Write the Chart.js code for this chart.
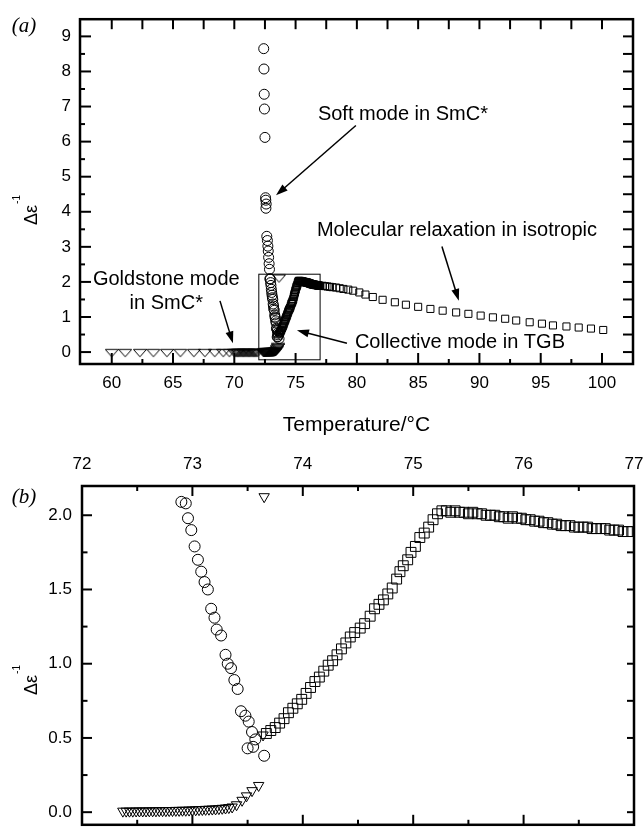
<!DOCTYPE html>
<html><head><meta charset="utf-8">
<script src="https://cdn.jsdelivr.net/npm/chart.js@4/dist/chart.umd.min.js"></script>
<style>
html,body{margin:0;padding:0;background:#fff;overflow:hidden;width:643px;height:831px;}
#a{position:absolute;left:0;top:0;}
#b{position:absolute;left:0;top:445px;}
</style></head><body>
<canvas id="a" width="643" height="445"></canvas>
<canvas id="b" width="643" height="400"></canvas>
<script>
// ---------- DATA ----------
// Goldstone mode in SmC* (down triangles)
const goldstoneTemp = [60.0,61.1,62.3,63.4,64.5,65.6,66.7,67.6,68.4,69.1,69.6,70.0,
  70.1,70.2,70.3,70.4,70.5,70.6,70.7,70.8,70.9,71.0,71.1,71.2,71.3,71.4,71.5,71.6,71.7,71.8,71.9,
  72.37,72.40,72.43,72.46,72.49,72.52,72.55,72.58,72.61,72.64,72.67,72.70,72.73,72.76,72.79,72.82,72.85,72.88,72.91,72.94,72.97,73.00,73.03,73.06,73.09,73.12,73.15,73.18,73.21,73.24,73.27,73.30,73.33,73.36,
  73.40,73.45,73.49,73.54,73.60,73.64,73.65];
const goldstoneInvEps = [0,0,0,0,0,0,0,0,0,0,0,0,
  0,0,0,0,0,0,0,0,0,0,0,0,0,0,0,0,0,0,0,
  0.007,0.007,0.007,0.007,0.008,0.008,0.008,0.008,0.009,0.009,0.009,0.010,0.010,0.010,0.011,0.011,0.012,0.012,0.013,0.013,0.014,0.015,0.016,0.017,0.018,0.019,0.020,0.021,0.022,0.024,0.026,0.028,0.031,0.035,
  0.05,0.08,0.11,0.145,0.18,0.52,2.125];
// Soft mode in SmC* (circles)
const softTemp = [72.40,72.42,72.44,72.46,72.50,72.55,72.57,72.60,72.58,72.65,72.70,72.74,72.77,72.80,72.84,72.87,
  72.90,72.94,72.96,72.99,73.02,73.05,73.08,73.11,73.14,73.17,73.20,73.22,73.26,73.30,73.32,73.35,73.38,73.41,73.44,73.48,73.51,73.54,73.57,73.50,73.55,73.65];
const softInvEps = [8.65,8.07,7.35,6.93,6.12,4.40,4.33,4.22,4.10,3.30,3.18,3.02,2.88,2.70,2.52,2.36,
  2.09,2.08,1.98,1.90,1.79,1.70,1.62,1.55,1.50,1.37,1.31,1.23,1.19,1.06,1.00,0.97,0.89,0.83,0.68,0.65,0.61,0.54,0.49,0.43,0.44,0.38];
// Collective mode in TGB + molecular relaxation in isotropic (squares)
const collectiveTemp = [73.67,73.71,73.75,73.79,73.83,73.87,73.91,73.95,73.99,74.03,74.07,74.11,74.15,74.19,74.23,74.27,74.31,74.35,74.39,74.43,74.47,74.52,74.56,74.61,74.65,74.69,74.73,74.77,74.81,74.85,74.88,74.91,74.95,74.98,75.02,75.06,75.10,75.14,75.18,75.22,75.26,
  75.30,75.34,75.38,75.42,75.46,75.50,75.54,75.58,75.62,75.66,75.70,75.74,75.78,75.82,75.86,75.90,75.94,75.98,76.02,76.06,76.10,76.14,76.18,76.22,76.26,76.30,76.34,76.38,76.42,76.46,76.50,76.54,76.58,76.62,76.66,76.70,76.74,76.78,76.82,76.86,76.90,76.94,76.98,
  77.2,77.4,77.6,77.8,78.0,78.3,78.6,78.9,79.3,79.7,80.2,80.7,81.3,82.1,83.1,84.0,85.0,86.0,87.0,88.1,89.1,90.1,91.1,92.1,93.0,94.1,95.1,96.0,97.1,98.1,99.1,100.1];
const collectiveInvEps = [0.53,0.55,0.57,0.60,0.63,0.67,0.70,0.73,0.76,0.80,0.84,0.88,0.91,0.95,0.99,1.02,1.06,1.10,1.14,1.18,1.21,1.24,1.27,1.32,1.37,1.40,1.43,1.47,1.51,1.57,1.62,1.66,1.70,1.75,1.79,1.85,1.88,1.92,1.97,2.01,2.03,
  2.03,2.02,2.03,2.02,2.02,2.01,2.02,2.01,2.01,2.00,2.00,2.00,1.99,1.99,1.98,1.99,1.98,1.98,1.97,1.97,1.96,1.96,1.95,1.95,1.94,1.94,1.93,1.93,1.93,1.92,1.92,1.92,1.92,1.91,1.91,1.91,1.91,1.90,1.90,1.90,1.89,1.89,1.89,
  1.89,1.88,1.87,1.86,1.85,1.84,1.82,1.80,1.78,1.75,1.70,1.64,1.57,1.49,1.42,1.35,1.29,1.23,1.18,1.13,1.09,1.04,0.99,0.95,0.90,0.85,0.81,0.76,0.73,0.70,0.67,0.63];
// Tick labels
const tempTicksA = [60,65,70,75,80,85,90,95,100];
const epsTicksA = [0,1,2,3,4,5,6,7,8,9];
const tempTicksB = [72,73,74,75,76,77];
const epsTicksB = [0.0,0.5,1.0,1.5,2.0];
// Zoomed window marked in panel (a)
const zoomWindowTemp = [72, 77];
const zoomWindowEps = [-0.22, 2.22];

// ---------- helpers ----------
const FONT = '"Liberation Sans", Arial, sans-serif';
const pts = (xs, ys) => xs.map((x, i) => ({x, y: ys[i]}));
const mids = arr => arr.slice(1).map((v, i) => (v + arr[i]) / 2);

function triImage(w, h, top, bottom) {
  const c = document.createElement('canvas'); c.width = w; c.height = h;
  const g = c.getContext('2d'); g.strokeStyle = '#000'; g.lineWidth = 1;
  g.beginPath(); g.moveTo(0.5, top); g.lineTo(w - 0.5, top); g.lineTo(w / 2, bottom); g.closePath(); g.stroke();
  return c;
}

function drawFrame(chart, spec) {
  const {ctx, chartArea: ca, scales: {x, y}} = chart;
  ctx.save();
  ctx.strokeStyle = '#000';
  ctx.lineWidth = 2;
  const seg = (x1, y1, x2, y2) => { ctx.beginPath(); ctx.moveTo(x1, y1); ctx.lineTo(x2, y2); ctx.stroke(); };
  spec.bottom.forEach(([v, l]) => { const p = x.getPixelForValue(v); seg(p, ca.bottom, p, ca.bottom - l); });
  spec.top.forEach(([v, l]) => { const p = x.getPixelForValue(v); seg(p, ca.top, p, ca.top + l); });
  spec.left.forEach(([v, l]) => { const p = y.getPixelForValue(v); seg(ca.left, p, ca.left + l, p); });
  spec.right.forEach(([v, l]) => { const p = y.getPixelForValue(v); seg(ca.right, p, ca.right - l, p); });
  ctx.lineWidth = 2.5;
  ctx.strokeRect(ca.left, ca.top, ca.right - ca.left, ca.bottom - ca.top);
  ctx.restore();
}

function yTitle(ctx, startY, baseX) {
  ctx.save();
  ctx.translate(baseX, startY); ctx.rotate(-Math.PI / 2);
  ctx.fillStyle = '#000';
  ctx.font = '18px ' + FONT; ctx.textAlign = 'left'; ctx.textBaseline = 'alphabetic';
  ctx.fillText('Δε', 0, 0);
  const w = ctx.measureText('Δε').width;
  ctx.font = '10px ' + FONT;
  ctx.fillText('-1', w + 1, -17);
  ctx.restore();
}

function panelLabel(ctx, txt, x, y) {
  ctx.save(); ctx.fillStyle = '#000';
  ctx.font = 'italic 21px "Liberation Serif", "Times New Roman", serif';
  ctx.textAlign = 'center'; ctx.textBaseline = 'middle';
  ctx.fillText(txt, x, y); ctx.restore();
}

function arrow(ctx, x1, y1, x2, y2) {
  const a = Math.atan2(y2 - y1, x2 - x1), L = 12, W = 4;
  ctx.beginPath(); ctx.moveTo(x1, y1);
  ctx.lineTo(x2 - L * 0.8 * Math.cos(a), y2 - L * 0.8 * Math.sin(a));
  ctx.lineWidth = 1.5; ctx.stroke();
  ctx.beginPath(); ctx.moveTo(x2, y2);
  ctx.lineTo(x2 - L * Math.cos(a) + W * Math.sin(a), y2 - L * Math.sin(a) - W * Math.cos(a));
  ctx.lineTo(x2 - L * Math.cos(a) - W * Math.sin(a), y2 - L * Math.sin(a) + W * Math.cos(a));
  ctx.closePath(); ctx.fill();
}

const tickFont = {family: FONT, size: 17};

// ---------- Panel (a) ----------
const notesA = [
  {text: 'Soft mode in SmC*', x: 76.82, y: 6.77, align: 'left'},
  {text: 'Molecular relaxation in isotropic', x: 76.74, y: 3.46, align: 'left'},
  {text: 'Goldstone mode', x: 64.45, y: 2.08, align: 'center'},
  {text: 'in SmC*', x: 64.45, y: 1.38, align: 'center'},
  {text: 'Collective mode in TGB', x: 79.84, y: 0.28, align: 'left'}
];
const arrowsA = [
  {from: [79.92, 6.46], to: [73.40, 4.47]},
  {from: [86.94, 3.01], to: [88.32, 1.46]},
  {from: [68.83, 1.46], to: [69.89, 0.25]},
  {from: [79.19, 0.25], to: [75.11, 0.62]}
];

const plugA = {
  id: 'decorA',
  afterDatasetsDraw(chart) {
    const {ctx, scales: {x, y}} = chart;
    ctx.save();
    ctx.strokeStyle = '#000'; ctx.lineWidth = 1;
    const x1 = x.getPixelForValue(zoomWindowTemp[0]), x2 = x.getPixelForValue(zoomWindowTemp[1]);
    const y1 = y.getPixelForValue(zoomWindowEps[1]), y2 = y.getPixelForValue(zoomWindowEps[0]);
    ctx.strokeRect(x1, y1, x2 - x1, y2 - y1);
    ctx.fillStyle = '#000';
    ctx.font = '20px ' + FONT; ctx.textBaseline = 'middle';
    notesA.forEach(n => { ctx.textAlign = n.align; ctx.fillText(n.text, x.getPixelForValue(n.x), y.getPixelForValue(n.y)); });
    arrowsA.forEach(a => arrow(ctx, x.getPixelForValue(a.from[0]), y.getPixelForValue(a.from[1]), x.getPixelForValue(a.to[0]), y.getPixelForValue(a.to[1])));
    ctx.restore();
    const allT = tempTicksA.concat(mids(tempTicksA));
    const allE = epsTicksA.concat(mids(epsTicksA));
    drawFrame(chart, {
      bottom: tempTicksA.map(v => [v, 11]).concat(mids(tempTicksA).map(v => [v, 5])),
      top: allT.map(v => [v, 10]),
      left: epsTicksA.map(v => [v, 11]).concat(mids(epsTicksA).map(v => [v, 5])),
      right: allE.map(v => [v, 10])
    });
    yTitle(ctx, 225, 37);
    panelLabel(ctx, '(a)', 24, 26);
  }
};

const triA = triImage(14, 12, 3.3, 10.7);

new Chart(document.getElementById('a'), {
  type: 'scatter',
  data: {datasets: [
    {data: pts(goldstoneTemp, goldstoneInvEps), pointStyle: triA, pointRadius: 6, borderColor: '#000', backgroundColor: 'rgba(0,0,0,0)'},
    {data: pts(softTemp, softInvEps), pointStyle: 'circle', pointRadius: 5, borderWidth: 1, borderColor: '#000', backgroundColor: 'rgba(0,0,0,0)'},
    {data: pts(collectiveTemp, collectiveInvEps), pointStyle: 'rect', pointRadius: 5, borderWidth: 1, borderColor: '#000', backgroundColor: 'rgba(0,0,0,0)'}
  ]},
  options: {
    responsive: false, animation: false, events: [],
    layout: {padding: {left: 0, right: 10, top: 14, bottom: 0}},
    plugins: {legend: {display: false}, tooltip: {enabled: false}},
    scales: {
      x: {type: 'linear', position: 'bottom', min: 57.41, max: 102.53,
        afterBuildTicks: s => { s.ticks = tempTicksA.map(v => ({value: v})); },
        afterFit: s => { s.height = 81; s.paddingLeft = 0; s.paddingRight = 0; },
        grid: {display: false, drawTicks: false}, border: {display: false},
        ticks: {font: tickFont, color: '#000', padding: 9, maxRotation: 0, autoSkip: false},
        title: {display: true, text: 'Temperature/°C', color: '#000', font: {family: FONT, size: 21}, padding: {top: 0, bottom: 7}}
      },
      y: {type: 'linear', position: 'left', min: -0.34, max: 9.49,
        afterBuildTicks: s => { s.ticks = epsTicksA.map(v => ({value: v})); },
        afterFit: s => { s.width = 80; },
        grid: {display: false, drawTicks: false}, border: {display: false},
        ticks: {font: tickFont, color: '#000', padding: 9, autoSkip: false}
      }
    }
  },
  plugins: [plugA]
});

// ---------- Panel (b) ----------
const plugB = {
  id: 'decorB',
  afterDatasetsDraw(chart) {
    const {ctx} = chart;
    const allE = epsTicksB.concat(mids(epsTicksB));
    drawFrame(chart, {
      bottom: tempTicksB.map(v => [v, 10]).concat(mids(tempTicksB).map(v => [v, 5])),
      top: tempTicksB.map(v => [v, 10]).concat(mids(tempTicksB).map(v => [v, 5])),
      left: epsTicksB.map(v => [v, 10]).concat(mids(epsTicksB).map(v => [v, 5.5])),
      right: allE.map(v => [v, 7])
    });
    yTitle(ctx, 250, 37);
    panelLabel(ctx, '(b)', 24, 52);
  }
};

new Chart(document.getElementById('b'), {
  type: 'scatter',
  data: {datasets: [
    {data: pts(goldstoneTemp, goldstoneInvEps), pointStyle: 'triangle', rotation: 180, pointRadius: 6, borderWidth: 1, borderColor: '#000', backgroundColor: 'rgba(0,0,0,0)', clip: 0},
    {data: pts(softTemp, softInvEps), pointStyle: 'circle', pointRadius: 5.5, borderWidth: 1, borderColor: '#000', backgroundColor: 'rgba(0,0,0,0)', clip: 0},
    {data: pts(collectiveTemp, collectiveInvEps), pointStyle: 'rect', pointRadius: 7, borderWidth: 1, borderColor: '#000', backgroundColor: 'rgba(0,0,0,0)', clip: 0}
  ]},
  options: {
    responsive: false, animation: false, events: [],
    layout: {padding: {left: 0, right: 9, top: 0, bottom: 12}},
    plugins: {legend: {display: false}, tooltip: {enabled: false}},
    scales: {
      x: {type: 'linear', position: 'top', min: 72, max: 77,
        afterBuildTicks: s => { s.ticks = tempTicksB.map(v => ({value: v})); },
        afterFit: s => { s.height = 41; s.paddingLeft = 0; s.paddingRight = 0; },
        grid: {display: false, drawTicks: false}, border: {display: false},
        ticks: {font: tickFont, color: '#000', padding: 11, maxRotation: 0, autoSkip: false}
      },
      y: {type: 'linear', position: 'left', min: -0.085, max: 2.197,
        afterBuildTicks: s => { s.ticks = epsTicksB.map(v => ({value: v})); },
        afterFit: s => { s.width = 82; },
        grid: {display: false, drawTicks: false}, border: {display: false},
        ticks: {font: tickFont, color: '#000', padding: 10, autoSkip: false, callback: v => Number(v).toFixed(1)}
      }
    }
  },
  plugins: [plugB]
});
</script>
</body></html>
